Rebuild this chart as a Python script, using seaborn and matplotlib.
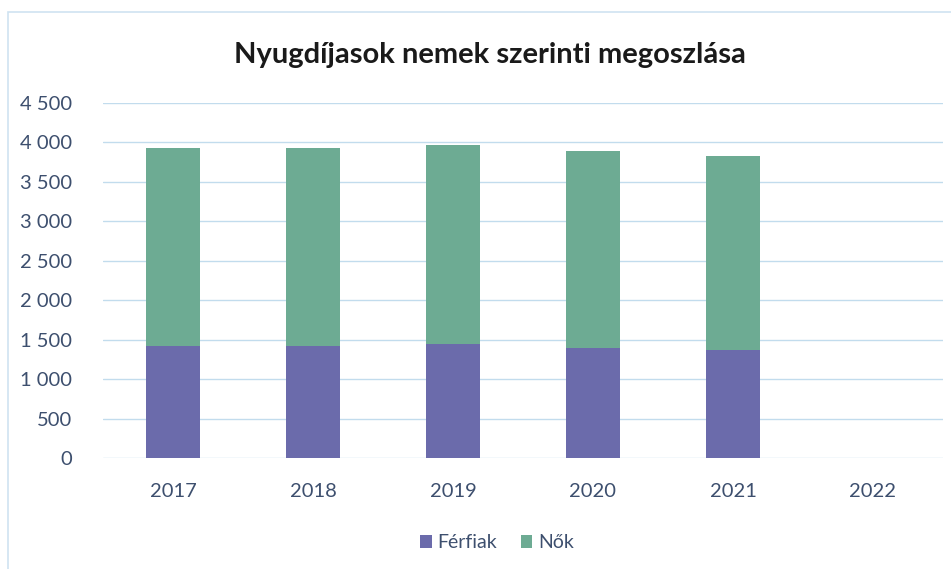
import matplotlib
matplotlib.use("Agg")
import matplotlib.pyplot as plt
from matplotlib.patches import Patch, Rectangle
from matplotlib.ticker import FuncFormatter, MultipleLocator
import seaborn as sns
import pandas as pd
import numpy as np

# Pensioners by sex (persons)
years = ["2017", "2018", "2019", "2020", "2021", "2022"]
ferfiak = [1423, 1423, 1449, 1394, 1364, np.nan]
nok = [2506, 2506, 2522, 2501, 2467, np.nan]

title = "Nyugdíjasok nemek szerinti megoszlása"
series_names = ["Férfiak", "Nők"]
colors = ["#6b6bab", "#6dab93"]
text_color = "#3d4f6e"
grid_color = "#c2dced"

sns.set_theme(style="white")
plt.rcParams["font.family"] = ["Lato", "DejaVu Sans"]

df = pd.DataFrame({"ev": years, "Férfiak": ferfiak, "Nők": nok})
df["osszes"] = df["Férfiak"] + df["Nők"]

fig = plt.figure(figsize=(9.51, 5.69), dpi=100)
ax = fig.add_axes([103 / 951, 111 / 569, 840 / 951, 355 / 569])

# stacked bars: total in the upper colour, men drawn over the lower part
sns.barplot(data=df, x="ev", y="osszes", order=years, color=colors[1],
            saturation=1, width=0.39, linewidth=0, ax=ax, zorder=3)
sns.barplot(data=df, x="ev", y="Férfiak", order=years, color=colors[0],
            saturation=1, width=0.39, linewidth=0, ax=ax, zorder=4)

ax.set_ylim(0, 4500)
ax.set_xlim(-0.5, len(years) - 0.5)
ax.yaxis.set_major_locator(MultipleLocator(500))
ax.yaxis.set_major_formatter(FuncFormatter(lambda v, p: f"{int(v):,}".replace(",", " ")))
ax.grid(axis="y", color=grid_color, linewidth=1.0, zorder=0)
ax.set_axisbelow(True)
for s in ax.spines.values():
    s.set_visible(False)
ax.set_xlabel("")
ax.set_ylabel("")
ax.tick_params(axis="both", length=0, labelsize=14.5, colors=text_color)
ax.tick_params(axis="y", pad=22)
ax.tick_params(axis="x", pad=18)

fig.text(490 / 951, 1 - 55 / 569, title, ha="center", va="center",
         fontsize=21, fontweight="bold", color="#1a1a1a")

handles = [Patch(facecolor=c, edgecolor="none", label=n) for c, n in zip(colors, series_names)]
fig.legend(handles=handles, loc="center", bbox_to_anchor=(497 / 951, 1 - 543 / 569),
           ncol=2, frameon=False, fontsize=14, labelcolor=text_color,
           handlelength=0.6, handleheight=0.6, handletextpad=0.3, columnspacing=1.2)

# chart frame
fig.add_artist(Rectangle((8 / 951, -0.05), 1.0, 1 - 12 / 569 + 0.05,
                         transform=fig.transFigure, fill=False,
                         edgecolor="#cfe3f1", linewidth=1.2))

fig.savefig("out.png", dpi=100, facecolor="white")
